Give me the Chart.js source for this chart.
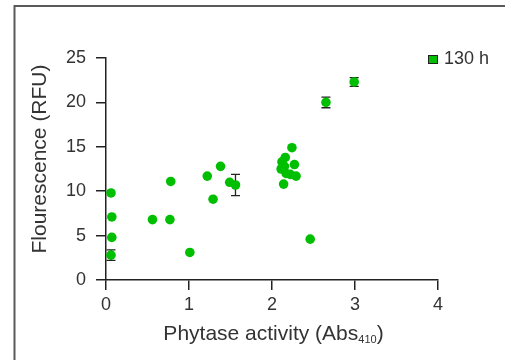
<!DOCTYPE html>
<html>
<head>
<meta charset="utf-8">
<script src="https://cdn.jsdelivr.net/npm/chart.js@4/dist/chart.umd.min.js"></script>
<style>
  html, body { margin: 0; padding: 0; background: #fff; }
  #wrap { width: 505px; height: 360px; position: relative; }
</style>
</head>
<body>
<div id="wrap"><canvas id="chart" width="505" height="360"></canvas></div>
<script>
// values
const seriesLabel = "130 h";
const activity = [0.06, 0.07, 0.07, 0.06, 0.56, 0.77, 0.78, 1.01, 1.22, 1.29, 1.38, 1.49, 1.56,
  2.14, 2.12, 2.11, 2.16, 2.17, 2.22, 2.15, 2.24, 2.27, 2.29, 2.46, 2.65, 2.99];
const fluorescence = [2.8, 4.8, 7.1, 9.8, 6.8, 6.8, 11.1, 3.1, 11.7, 9.1, 12.8, 11.0, 10.7,
  10.8, 13.3, 12.5, 13.8, 12.0, 11.9, 12.8, 14.9, 13.0, 11.7, 4.6, 20.0, 22.3];
const fluorescenceErr = [0.6, 0, 0, 0, 0, 0, 0, 0, 0, 0, 0, 0, 1.2,
  0, 0, 0, 0, 0, 0, 0, 0, 0, 0, 0, 0.6, 0.5];
const xTicks = [0, 1, 2, 3, 4];
const yTicks = [0, 5, 10, 15, 20, 25];

const green = "#00bf00";
const textColor = "#333333";
const font = "'Liberation Sans', Arial, sans-serif";

const points = activity.map((x, i) => ({ x: x, y: fluorescence[i] }));

// error bars, frame, axis titles and legend
const extras = {
  id: "extras",
  beforeDatasetsDraw(chart) {
    const ctx = chart.ctx;
    const xs = chart.scales.x, ys = chart.scales.y;
    ctx.save();
    ctx.strokeStyle = "#222";
    ctx.lineWidth = 1.3;
    fluorescenceErr.forEach((e, i) => {
      if (!e) return;
      const px = xs.getPixelForValue(activity[i]);
      const top = ys.getPixelForValue(fluorescence[i] + e);
      const bot = ys.getPixelForValue(fluorescence[i] - e);
      ctx.beginPath();
      ctx.moveTo(px, top); ctx.lineTo(px, bot);
      ctx.moveTo(px - 4.5, top); ctx.lineTo(px + 4.5, top);
      ctx.moveTo(px - 4.5, bot); ctx.lineTo(px + 4.5, bot);
      ctx.stroke();
    });
    ctx.restore();
  },
  afterDraw(chart) {
    const ctx = chart.ctx;
    const area = chart.chartArea;
    ctx.save();
    // outer frame (left and top only)
    ctx.strokeStyle = "#5a5a5a";
    ctx.lineWidth = 2;
    ctx.beginPath();
    ctx.moveTo(14.5, 360); ctx.lineTo(14.5, 6); ctx.lineTo(505, 6);
    ctx.stroke();

    ctx.fillStyle = textColor;
    // x title with subscript
    const main = "Phytase activity (Abs";
    const sub = "410";
    ctx.font = "21px " + font;
    const w1 = ctx.measureText(main).width;
    const w3 = ctx.measureText(")").width;
    ctx.font = "11px " + font;
    const w2 = ctx.measureText(sub).width;
    const total = w1 + w2 + w3;
    let sx = 273.5 - total / 2;
    const baseY = 340;
    ctx.textBaseline = "alphabetic";
    ctx.textAlign = "left";
    ctx.font = "21px " + font;
    ctx.fillText(main, sx, baseY);
    ctx.font = "11px " + font;
    ctx.fillText(sub, sx + w1, baseY + 3);
    ctx.font = "21px " + font;
    ctx.fillText(")", sx + w1 + w2, baseY);

    // y title
    ctx.translate(46, 159);
    ctx.rotate(-Math.PI / 2);
    ctx.textAlign = "center";
    ctx.font = "21px " + font;
    ctx.fillText("Flourescence (RFU)", 0, 0);
    ctx.setTransform(1, 0, 0, 1, 0, 0);

    // legend
    ctx.fillStyle = green;
    ctx.fillRect(428.5, 55.5, 9, 8);
    ctx.strokeStyle = "#222";
    ctx.lineWidth = 1;
    ctx.strokeRect(428.5, 55.5, 9, 8);
    ctx.fillStyle = textColor;
    ctx.font = "18px " + font;
    ctx.textAlign = "left";
    ctx.textBaseline = "middle";
    ctx.fillText(chart.data.datasets[0].label, 444, 59);
    ctx.restore();
  }
};

new Chart(document.getElementById("chart"), {
  type: "scatter",
  data: {
    datasets: [{
      label: seriesLabel,
      data: points,
      backgroundColor: green,
      borderColor: green,
      borderWidth: 0,
      pointRadius: 4.8,
      pointHoverRadius: 4.8
    }]
  },
  options: {
    responsive: false,
    animation: false,
    events: [],
    layout: { padding: { top: 58, right: 67, left: 0, bottom: 0 } },
    plugins: { legend: { display: false }, tooltip: { enabled: false } },
    scales: {
      x: {
        type: "linear",
        min: 0,
        max: 4,
        afterBuildTicks: (scale) => { scale.ticks = xTicks.map(v => ({ value: v })); },
        afterFit: (scale) => { scale.height = 80; },
        grid: { drawOnChartArea: false, tickLength: 10, color: "#222", lineWidth: 1.5 },
        border: { color: "#222", width: 1.5 },
        ticks: { color: textColor, font: { family: font, size: 18 }, padding: 4 }
      },
      y: {
        type: "linear",
        min: 0,
        max: 25,
        afterBuildTicks: (scale) => { scale.ticks = yTicks.map(v => ({ value: v })); },
        afterFit: (scale) => { scale.width = 106; },
        grid: { drawOnChartArea: false, tickLength: 10, color: "#222", lineWidth: 1.5 },
        border: { color: "#222", width: 1.5 },
        ticks: { color: textColor, font: { family: font, size: 18 }, padding: 10 }
      }
    }
  },
  plugins: [extras]
});
</script>
</body>
</html>
